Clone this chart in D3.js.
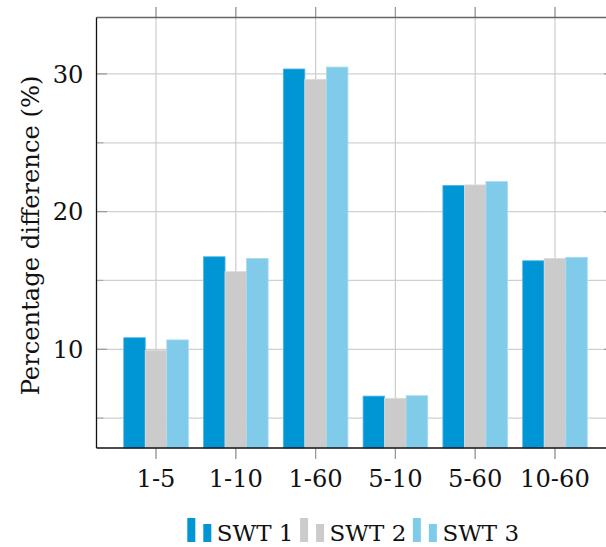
<!DOCTYPE html>
<html>
<head>
<meta charset="utf-8">
<script src="https://cdn.jsdelivr.net/npm/d3@7"></script>
<style>
  body { margin: 0; background: #fff; }
</style>
</head>
<body>
<svg id="chart" width="606" height="547"></svg>
<script>
// values
var categories = ["1-5", "1-10", "1-60", "5-10", "5-60", "10-60"];
var seriesNames = ["SWT 1", "SWT 2", "SWT 3"];
var swt1 = [10.84, 16.72, 30.36, 6.60, 21.90, 16.43];
var swt2 = [9.92, 15.64, 29.61, 6.44, 21.94, 16.60];
var swt3 = [10.68, 16.60, 30.50, 6.63, 22.18, 16.68];
var majorTicks = [10, 20, 30];
var minorTicks = [5, 15, 25];
var yDomain = [2.83, 34.1];

var colors = ["#0096d6", "#cbcbcb", "#80cbea"];
var edge = ["#4fb6e3", "#dadada", "#a6daf0"];
var serif = "'DejaVu Serif', serif";
var fs = 24.2;

var margin = { top: 17.5, right: -8.5, bottom: 99, left: 96.5 },
	width = 606 - margin.left - margin.right,
	height = 547 - margin.top - margin.bottom;

var svg = d3.select("#chart").attr("font-family", serif);
var g = svg.append("g").attr("transform", "translate(" + margin.left + "," + margin.top + ")");

var x = d3.scalePoint().domain(categories).range([0, width]).padding(0.746);
var xs = d3.scaleBand().domain(seriesNames).range([-32.3, 32.3]);
var y = d3.scaleLinear().domain(yDomain).range([height, 0]);

// grid
var allTicks = majorTicks.concat(minorTicks);
g.selectAll("line.hgrid").data(allTicks).enter().append("line")
	.attr("class", "hgrid")
	.attr("x1", 0).attr("x2", width)
	.attr("y1", d => y(d)).attr("y2", d => y(d))
	.attr("stroke", "#d0d0d0").attr("stroke-width", 1.2);
g.selectAll("line.vgrid").data(categories).enter().append("line")
	.attr("class", "vgrid")
	.attr("x1", d => x(d)).attr("x2", d => x(d))
	.attr("y1", -10.5).attr("y2", height + 11)
	.attr("stroke", "#cccccc").attr("stroke-width", 1.2);
// tick marks on top / bottom
g.selectAll("line.xt").data(categories).enter().append("line")
	.attr("x1", d => x(d)).attr("x2", d => x(d))
	.attr("y1", height).attr("y2", height + 11)
	.attr("stroke", "#999").attr("stroke-width", 1.2);
g.selectAll("line.xt2").data(categories).enter().append("line")
	.attr("x1", d => x(d)).attr("x2", d => x(d))
	.attr("y1", -10.5).attr("y2", 0)
	.attr("stroke", "#999").attr("stroke-width", 1.2);

// bars
var data = [swt1, swt2, swt3];
data.forEach(function (vals, si) {
	g.selectAll("rect.s" + si).data(vals).enter().append("rect")
		.attr("class", "s" + si)
		.attr("x", (d, i) => x(categories[i]) + xs(seriesNames[si]))
		.attr("width", xs.bandwidth())
		.attr("y", d => y(d))
		.attr("height", d => height - y(d))
		.attr("fill", colors[si])
		.attr("stroke", edge[si]).attr("stroke-width", 0.8);
});

// y tick marks inside the frame
g.selectAll("line.ymaj").data(majorTicks).enter().append("line")
	.attr("x1", 0).attr("x2", 10.5)
	.attr("y1", d => y(d)).attr("y2", d => y(d))
	.attr("stroke", "#999").attr("stroke-width", 1.2);
g.selectAll("line.ymajr").data(majorTicks).enter().append("line")
	.attr("x1", width - 10.5).attr("x2", width)
	.attr("y1", d => y(d)).attr("y2", d => y(d))
	.attr("stroke", "#999").attr("stroke-width", 1.2);
g.selectAll("line.ymin").data(minorTicks).enter().append("line")
	.attr("x1", 0).attr("x2", 7)
	.attr("y1", d => y(d)).attr("y2", d => y(d))
	.attr("stroke", "#aaa").attr("stroke-width", 1.2);

// frame
g.append("line").attr("x1", 0).attr("x2", width).attr("y1", 0).attr("y2", 0)
	.attr("stroke", "#666").attr("stroke-width", 1.4);
g.append("line").attr("x1", 0).attr("x2", 0).attr("y1", 0).attr("y2", height)
	.attr("stroke", "#111").attr("stroke-width", 1.3);
g.append("line").attr("x1", 0).attr("x2", width).attr("y1", height).attr("y2", height)
	.attr("stroke", "#111").attr("stroke-width", 1.3);

// tick labels
g.selectAll("text.ylab").data(majorTicks).enter().append("text")
	.attr("x", -13).attr("y", d => y(d)).attr("dy", "0.36em")
	.attr("text-anchor", "end").attr("font-size", fs).attr("fill", "#111")
	.text(d => d);
g.selectAll("text.xlab").data(categories).enter().append("text")
	.attr("x", d => x(d)).attr("y", height + 39)
	.attr("text-anchor", "middle").attr("font-size", fs).attr("fill", "#111")
	.text(d => d);

// axis title
svg.append("text")
	.attr("transform", "translate(39," + 235.5 + ") rotate(-90)")
	.attr("text-anchor", "middle").attr("font-size", fs).attr("fill", "#111")
	.text("Percentage difference (%)");

// legend
var legend = svg.append("g").attr("transform", "translate(0,542)");
var cx = 187.3;
seriesNames.forEach(function (name, si) {
	legend.append("rect").attr("x", cx).attr("y", -24).attr("width", 8).attr("height", 24).attr("fill", colors[si]);
	legend.append("rect").attr("x", cx + 16).attr("y", -18).attr("width", 8).attr("height", 18).attr("fill", colors[si]);
	var t = legend.append("text").attr("x", cx + 29.5).attr("y", -1)
		.attr("font-size", 23).attr("fill", "#111").text(name);
	cx = cx + 29.5 + t.node().getComputedTextLength() + 6.6;
});
</script>
</body>
</html>
